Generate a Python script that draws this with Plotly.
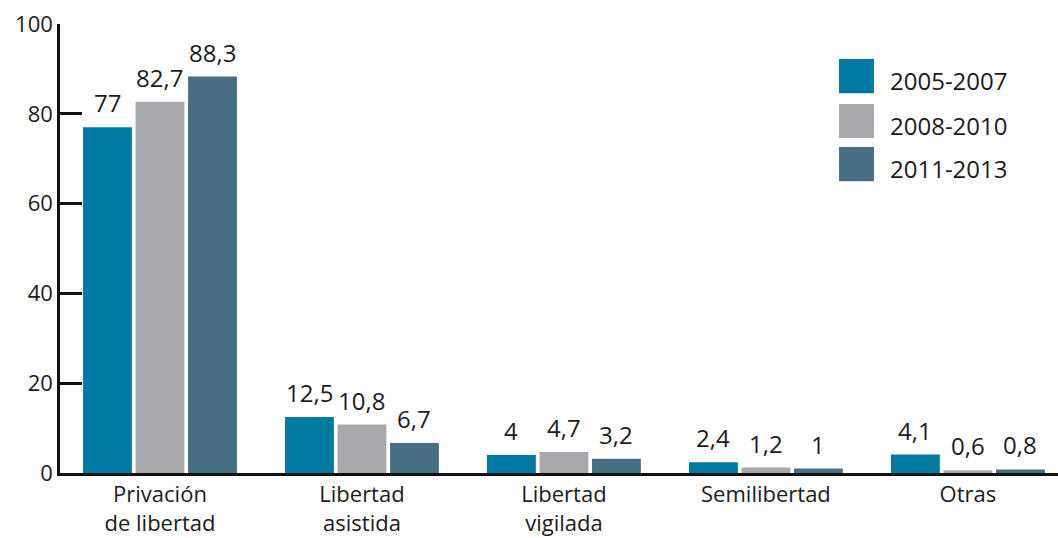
import plotly.graph_objects as go

# Data
categories = ["Privación<br>de libertad", "Libertad<br>asistida", "Libertad<br>vigilada",
              "Semilibertad", "Otras"]
periods = ["2005-2007", "2008-2010", "2011-2013"]
values_2005_2007 = [77, 12.5, 4, 2.4, 4.1]
values_2008_2010 = [82.7, 10.8, 4.7, 1.2, 0.6]
values_2011_2013 = [88.3, 6.7, 3.2, 1, 0.8]
y_ticks = [0, 20, 40, 60, 80, 100]

series = [values_2005_2007, values_2008_2010, values_2011_2013]
colors = ["#0079a3", "#a7a9ac", "#476e81"]

FONT = "Open Sans"
INK = "#1d1b1c"
BARGAP = 0.22
BARGROUPGAP = 0.07


def fmt(v):
    return (f"{v:g}").replace(".", ",")


fig = go.Figure()
x_idx = list(range(len(categories)))
for name, vals, col in zip(periods, series, colors):
    fig.add_trace(go.Bar(
        x=x_idx, y=vals, name=name,
        marker=dict(color=col, line=dict(width=0)),
        showlegend=False,
    ))

# Value labels above each bar
slot = (1 - BARGAP) / len(series)
for j, vals in enumerate(series):
    off = (j - (len(series) - 1) / 2) * slot
    for i, v in enumerate(vals):
        fig.add_annotation(
            x=i + off, y=v, text=fmt(v), showarrow=False,
            yanchor="bottom", yshift=6,
            font=dict(family=FONT, size=24, color=INK),
        )

# Legend with large colour swatches
sw_top = [0.922, 0.822, 0.726]
sw_h = 0.076
for name, col, top in zip(periods, colors, sw_top):
    fig.add_shape(type="rect", xref="paper", yref="paper",
                  x0=0.7806, x1=0.8156, y0=top - sw_h, y1=top,
                  fillcolor=col, line=dict(width=0))
    fig.add_annotation(xref="paper", yref="paper", x=0.8297, y=top - sw_h / 2 - 0.01,
                       text=name, showarrow=False, xanchor="left", yanchor="middle",
                       font=dict(family=FONT, size=24, color=INK))

fig.update_layout(
    width=1058, height=538,
    margin=dict(l=60, r=0, t=24, b=65),
    paper_bgcolor="white", plot_bgcolor="white",
    barmode="group", bargap=BARGAP, bargroupgap=BARGROUPGAP,
    font=dict(family=FONT, color=INK),
)
fig.update_xaxes(
    tickvals=x_idx, ticktext=categories,
    range=[-0.495, 4.446], automargin=False,
    showline=True, linecolor="#111", linewidth=2.5,
    ticks="", showgrid=False, zeroline=False,
    tickfont=dict(family=FONT, size=22, color=INK),
)
fig.update_yaxes(
    range=[0, 100], tickvals=y_ticks, automargin=False,
    showline=True, linecolor="#111", linewidth=2.5,
    ticks="inside", ticklen=22, tickwidth=2.5, tickcolor="#111",
    showgrid=False, zeroline=False,
    tickfont=dict(family=FONT, size=22, color=INK),
)

fig.write_html("out.html")
